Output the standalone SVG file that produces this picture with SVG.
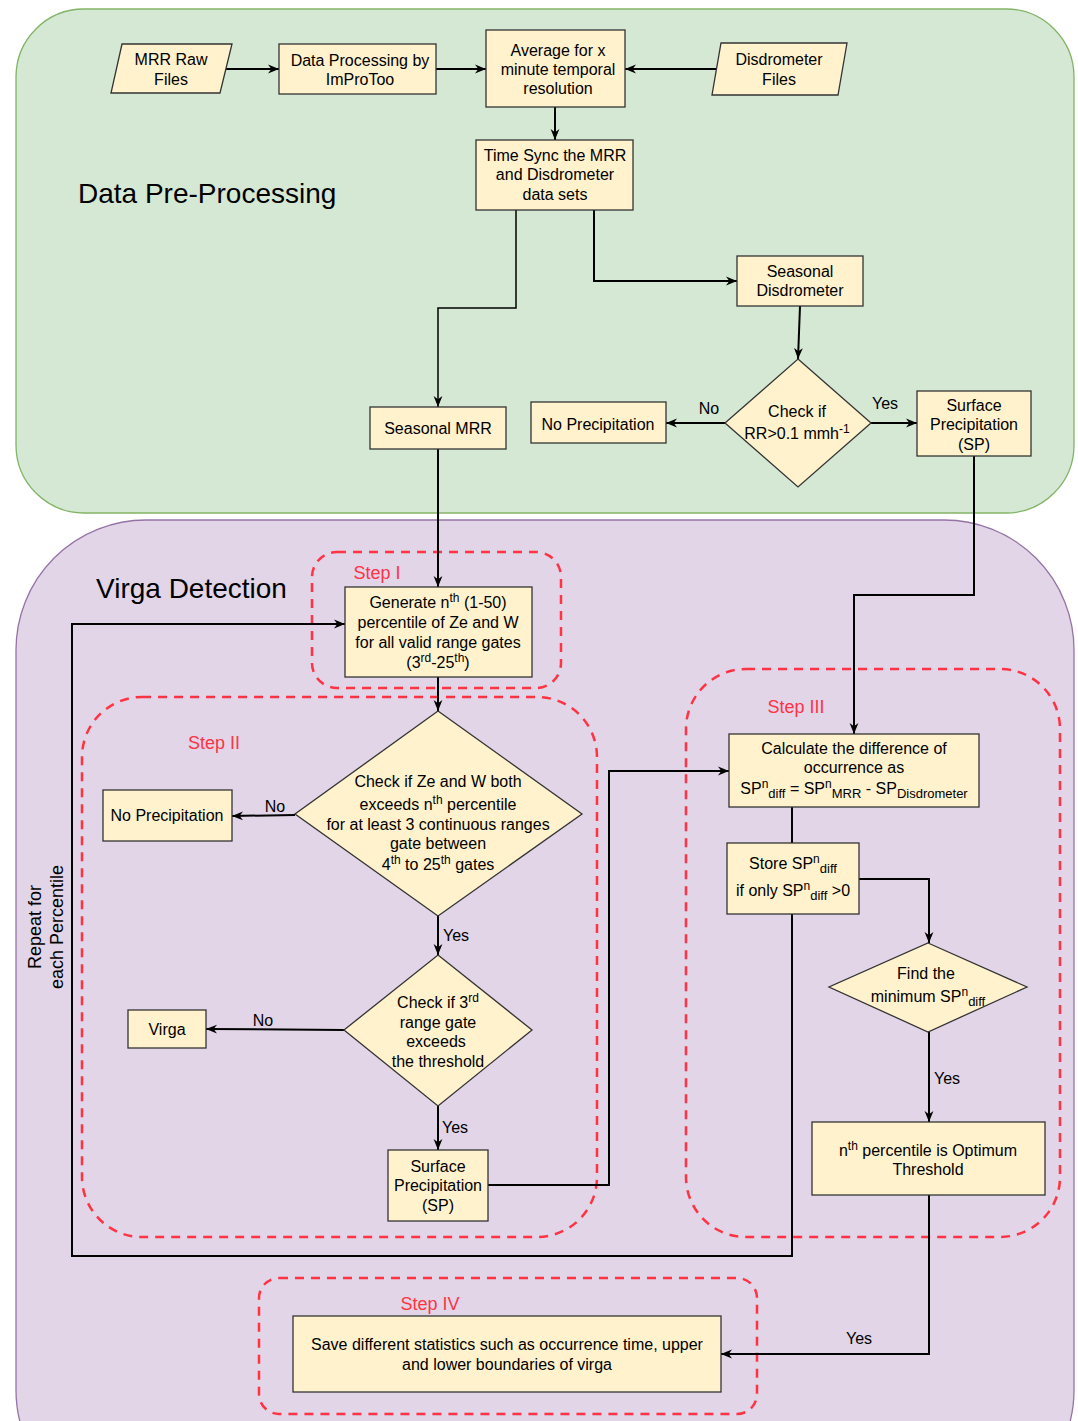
<svg xmlns="http://www.w3.org/2000/svg" width="1078" height="1421" viewBox="0 0 1078 1421">
<defs>
<marker id="arr" viewBox="0 0 10 10" refX="10" refY="5" markerWidth="11" markerHeight="11" markerUnits="userSpaceOnUse" orient="auto">
<path d="M0,1 L10,5 L0,9 L3,5 z" fill="#000"/>
</marker>
</defs>
<style>
text{font-family:"Liberation Sans",Arial,sans-serif;font-size:16px;fill:#000}
.t{text-anchor:middle}
.node{fill:#fff2cc;stroke:#333;stroke-width:1.3}
.edge{fill:none;stroke:#000;stroke-width:2}
.dash{fill:none;stroke:#ff3344;stroke-width:2.5;stroke-dasharray:9 7}
.step{fill:#ff3344;font-size:18px}
.title{font-size:28px}
.sup{font-size:12px}
</style>
<rect x="16" y="9" width="1058" height="504" rx="68" fill="#d5e8d4" stroke="#82b366" stroke-width="1.3"/>
<rect x="16" y="520" width="1058" height="1000" rx="130" fill="#e1d5e7" stroke="#9673a6" stroke-width="1.3"/>
<text x="78" y="203" class="title">Data Pre-Processing</text>
<text x="96" y="598" class="title">Virga Detection</text>
<text transform="translate(41,927) rotate(-90)" class="t" style="font-size:18px">Repeat for</text>
<text transform="translate(63,927) rotate(-90)" class="t" style="font-size:18px">each Percentile</text>

<g id="steps">
<rect x="312" y="552" width="249" height="136" rx="25" class="dash"/>
<rect x="82" y="697" width="515" height="540" rx="60" class="dash"/>
<rect x="686" y="669" width="374" height="568" rx="60" class="dash"/>
<rect x="259" y="1278" width="498" height="136" rx="20" class="dash"/>
<text x="377" y="579" class="t step">Step I</text>
<text x="214" y="749" class="t step">Step II</text>
<text x="796" y="713" class="t step">Step III</text>
<text x="430" y="1310" class="t step">Step IV</text>
</g>

<g id="connectors">
<path class="edge" d="M226,69 L279,69" marker-end="url(#arr)"/>
<path class="edge" d="M436,69 L486,69" marker-end="url(#arr)"/>
<path class="edge" d="M717,69 L625,69" marker-end="url(#arr)"/>
<path class="edge" d="M555,107 L555,140" marker-end="url(#arr)"/>
<path class="edge" style="stroke-width:1.5" d="M516,210 L516,308 L438,308 L438,407" marker-end="url(#arr)"/>
<path class="edge" d="M594,210 L594,281 L737,281" marker-end="url(#arr)"/>
<path class="edge" d="M800,306 L798,359" marker-end="url(#arr)"/>
<path class="edge" d="M725,423 L666,423" marker-end="url(#arr)"/>
<path class="edge" d="M871,423 L917,423" marker-end="url(#arr)"/>
<path class="edge" d="M438,449 L438,587" marker-end="url(#arr)"/>
<path class="edge" d="M974,456 L974,595 L854,595 L854,734" marker-end="url(#arr)"/>
<path class="edge" d="M438,677 L438,711" marker-end="url(#arr)"/>
<path class="edge" d="M295,815 L232,816" marker-end="url(#arr)"/>
<path class="edge" d="M438,916 L438,955" marker-end="url(#arr)"/>
<path class="edge" d="M344,1030 L206,1029" marker-end="url(#arr)"/>
<path class="edge" d="M438,1106 L438,1150" marker-end="url(#arr)"/>
<path class="edge" d="M488,1185 L609,1185 L609,771 L729,771" marker-end="url(#arr)"/>
<path class="edge" d="M792,807 L792,843"/>
<path class="edge" d="M859,879 L929,879 L929,943" marker-end="url(#arr)"/>
<path class="edge" d="M792,914 L792,1256 L72,1256 L72,624 L345,624" marker-end="url(#arr)"/>
<path class="edge" d="M929,1032 L929,1122" marker-end="url(#arr)"/>
<path class="edge" d="M929,1195 L929,1354 L721,1354" marker-end="url(#arr)"/>
<text x="709" y="414" class="t">No</text>
<text x="885" y="409" class="t">Yes</text>
<text x="275" y="812" class="t">No</text>
<text x="456" y="941" class="t">Yes</text>
<text x="263" y="1026" class="t">No</text>
<text x="455" y="1133" class="t">Yes</text>
<text x="947" y="1084" class="t">Yes</text>
<text x="859" y="1344" class="t">Yes</text>
</g>

<g id="mrr-raw">
<polygon class="node" points="122,44 232,44 220,93 111,93"/>
<text x="171" y="65" class="t">MRR Raw</text>
<text x="171" y="85" class="t">Files</text>
</g>
<g id="improtoo">
<rect class="node" x="279" y="44" width="157" height="50"/>
<text x="360" y="66" class="t">Data Processing by</text>
<text x="360" y="85" class="t">ImProToo</text>
</g>
<g id="average">
<rect class="node" x="486" y="30" width="139" height="77"/>
<text x="558" y="56" class="t">Average for x</text>
<text x="558" y="75" class="t">minute temporal</text>
<text x="558" y="94" class="t">resolution</text>
</g>
<g id="disdro-files">
<polygon class="node" points="721,43 847,43 838,95 712,95"/>
<text x="779" y="65" class="t">Disdrometer</text>
<text x="779" y="85" class="t">Files</text>
</g>
<g id="timesync">
<rect class="node" x="476" y="140" width="157" height="70"/>
<text x="555" y="161" class="t">Time Sync the MRR</text>
<text x="555" y="180" class="t">and Disdrometer</text>
<text x="555" y="200" class="t">data sets</text>
</g>
<g id="seasonal-disdro">
<rect class="node" x="737" y="256" width="126" height="50"/>
<text x="800" y="277" class="t">Seasonal</text>
<text x="800" y="296" class="t">Disdrometer</text>
</g>
<g id="check-rr">
<polygon class="node" points="798,359 871,423 798,487 725,423"/>
<text x="797" y="417" class="t">Check if</text>
<text x="797" y="439" class="t">RR&gt;0.1 mmh<tspan dy="-6" class="sup">-1</tspan></text>
</g>
<g id="sp-top">
<rect class="node" x="917" y="391" width="114" height="65"/>
<text x="974" y="411" class="t">Surface</text>
<text x="974" y="430" class="t">Precipitation</text>
<text x="974" y="450" class="t">(SP)</text>
</g>
<g id="noprecip-top">
<rect class="node" x="531" y="402" width="135" height="41"/>
<text x="598" y="430" class="t">No Precipitation</text>
</g>
<g id="seasonal-mrr">
<rect class="node" x="370" y="407" width="136" height="42"/>
<text x="438" y="434" class="t">Seasonal MRR</text>
</g>
<g id="generate">
<rect class="node" x="345" y="587" width="187" height="90"/>
<text x="438" y="608" class="t">Generate n<tspan dy="-6" class="sup">th</tspan><tspan dy="6"> (1-50)</tspan></text>
<text x="438" y="628" class="t">percentile of Ze and W</text>
<text x="438" y="648" class="t">for all valid range gates</text>
<text x="438" y="668" class="t">(3<tspan dy="-6" class="sup">rd</tspan><tspan dy="6">-25</tspan><tspan dy="-6" class="sup">th</tspan><tspan dy="6">)</tspan></text>
</g>
<g id="check-zew">
<polygon class="node" points="438,711 582,814 438,916 295,814"/>
<text x="438" y="787" class="t">Check if Ze and W both</text>
<text x="438" y="810" class="t">exceeds n<tspan dy="-6" class="sup">th</tspan><tspan dy="6"> percentile</tspan></text>
<text x="438" y="830" class="t">for at least 3 continuous ranges</text>
<text x="438" y="849" class="t">gate between</text>
<text x="438" y="870" class="t">4<tspan dy="-6" class="sup">th</tspan><tspan dy="6"> to 25</tspan><tspan dy="-6" class="sup">th</tspan><tspan dy="6"> gates</tspan></text>
</g>
<g id="noprecip-2">
<rect class="node" x="103" y="790" width="129" height="51"/>
<text x="167" y="821" class="t">No Precipitation</text>
</g>
<g id="check-3rd">
<polygon class="node" points="438,955 532,1030 438,1106 344,1030"/>
<text x="438" y="1008" class="t">Check if 3<tspan dy="-6" class="sup">rd</tspan></text>
<text x="438" y="1028" class="t">range gate</text>
<text x="436" y="1047" class="t">exceeds</text>
<text x="438" y="1067" class="t">the threshold</text>
</g>
<g id="virga">
<rect class="node" x="128" y="1010" width="78" height="38"/>
<text x="167" y="1035" class="t">Virga</text>
</g>
<g id="sp-2">
<rect class="node" x="388" y="1150" width="100" height="71"/>
<text x="438" y="1172" class="t">Surface</text>
<text x="438" y="1191" class="t">Precipitation</text>
<text x="438" y="1211" class="t">(SP)</text>
</g>
<g id="calculate">
<rect class="node" x="729" y="734" width="250" height="73"/>
<text x="854" y="754" class="t">Calculate the difference of</text>
<text x="854" y="773" class="t">occurrence as</text>
<text x="854" y="794" class="t">SP<tspan dy="-6" class="sup">n</tspan><tspan dy="10" style="font-size:13px">diff</tspan><tspan dy="-4"> = SP</tspan><tspan dy="-6" class="sup">n</tspan><tspan dy="10" style="font-size:13px">MRR</tspan><tspan dy="-4"> - SP</tspan><tspan dy="4" style="font-size:13px">Disdrometer</tspan></text>
</g>
<g id="store">
<rect class="node" x="727" y="843" width="132" height="71"/>
<text x="793" y="869" class="t">Store SP<tspan dy="-6" class="sup">n</tspan><tspan dy="10" style="font-size:13px">diff</tspan></text>
<text x="793" y="896" class="t">if only SP<tspan dy="-6" class="sup">n</tspan><tspan dy="10" style="font-size:13px">diff</tspan><tspan dy="-4"> &gt;0</tspan></text>
</g>
<g id="find-min">
<polygon class="node" points="928,943 1027,987 928,1032 829,987"/>
<text x="926" y="979" class="t">Find the</text>
<text x="928" y="1002" class="t">minimum SP<tspan dy="-6" class="sup">n</tspan><tspan dy="10" style="font-size:13px">diff</tspan></text>
</g>
<g id="optimum">
<rect class="node" x="812" y="1122" width="233" height="73"/>
<text x="928" y="1156" class="t">n<tspan dy="-6" class="sup">th</tspan><tspan dy="6"> percentile is Optimum</tspan></text>
<text x="928" y="1175" class="t">Threshold</text>
</g>
<g id="save">
<rect class="node" x="293" y="1316" width="428" height="76"/>
<text x="507" y="1350" class="t">Save different statistics such as occurrence time, upper</text>
<text x="507" y="1370" class="t">and lower boundaries of virga</text>
</g>
</svg>
